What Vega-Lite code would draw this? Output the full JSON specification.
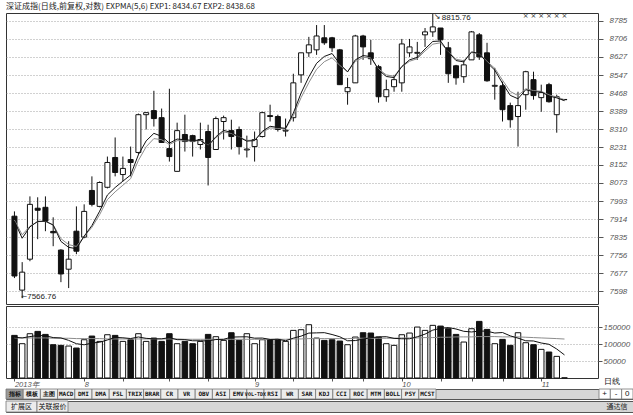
{
  "$schema": "https://vega.github.io/schema/vega-lite/v6.json",
  "background": "#ffffff",
  "padding": {"left": 5, "top": 2, "right": 0, "bottom": 0},
  "spacing": 0,
  "config": {
    "view": {"stroke": "#333333", "strokeWidth": 1},
    "font": "Liberation Sans",
    "title": {"font": "Noto Sans CJK SC"},
    "axis": {"labelOverlap": false}
  },
  "datasets": {
    "k": [
      {"idx":0,"open":7927,"high":7948,"low":7655,"close":7664,"amo":125500,"exp1":7905,"exp2":7910,"maamo1":120000,"maamo2":118000},
      {"idx":1,"open":7602,"high":7725,"low":7566.76,"close":7681,"amo":101000,"exp1":7830,"exp2":7845,"maamo1":118000,"maamo2":118000},
      {"idx":2,"open":7738,"high":8014,"low":7729,"close":7979,"amo":130400,"exp1":7880,"exp2":7883,"maamo1":122000,"maamo2":118000},
      {"idx":3,"open":7962,"high":8010,"low":7826,"close":7953,"amo":137200,"exp1":7904,"exp2":7903,"maamo1":125000,"maamo2":118000},
      {"idx":4,"open":7966,"high":8014,"low":7861,"close":7905,"amo":128400,"exp1":7905,"exp2":7904,"maamo1":124500,"maamo2":118000},
      {"idx":5,"open":7860,"high":7922,"low":7795,"close":7854,"amo":98000,"exp1":7888,"exp2":7889,"maamo1":119000,"maamo2":117000},
      {"idx":6,"open":7778,"high":7782,"low":7637,"close":7673,"amo":96100,"exp1":7816,"exp2":7828,"maamo1":118000,"maamo2":117000},
      {"idx":7,"open":7694,"high":7817,"low":7611,"close":7738,"amo":94100,"exp1":7790,"exp2":7802,"maamo1":110800,"maamo2":117000},
      {"idx":8,"open":7861,"high":7970,"low":7760,"close":7773,"amo":88200,"exp1":7784,"exp2":7794,"maamo1":101000,"maamo2":116000},
      {"idx":9,"open":7835,"high":7979,"low":7830,"close":7948,"amo":112700,"exp1":7839,"exp2":7838,"maamo1":97800,"maamo2":116000},
      {"idx":10,"open":8040,"high":8102,"low":7970,"close":7979,"amo":123500,"exp1":7886,"exp2":7878,"maamo1":102900,"maamo2":116000},
      {"idx":11,"open":7970,"high":8080,"low":7966,"close":8075,"amo":107800,"exp1":7949,"exp2":7934,"maamo1":105300,"maamo2":116000},
      {"idx":12,"open":8054,"high":8189,"low":8049,"close":8163,"amo":127400,"exp1":8020,"exp2":8000,"maamo1":111900,"maamo2":115000},
      {"idx":13,"open":8185,"high":8273,"low":8102,"close":8119,"amo":125500,"exp1":8053,"exp2":8034,"maamo1":119400,"maamo2":115000},
      {"idx":14,"open":8110,"high":8189,"low":8080,"close":8137,"amo":107800,"exp1":8081,"exp2":8063,"maamo1":118400,"maamo2":115000},
      {"idx":15,"open":8176,"high":8233,"low":8102,"close":8163,"amo":112700,"exp1":8108,"exp2":8092,"maamo1":116200,"maamo2":115000},
      {"idx":16,"open":8207,"high":8378,"low":8198,"close":8373,"amo":130400,"exp1":8197,"exp2":8172,"maamo1":120800,"maamo2":115000},
      {"idx":17,"open":8373,"high":8382,"low":8308,"close":8382,"amo":107800,"exp1":8258,"exp2":8232,"maamo1":116800,"maamo2":115000},
      {"idx":18,"open":8391,"high":8478,"low":8321,"close":8356,"amo":117600,"exp1":8291,"exp2":8268,"maamo1":115300,"maamo2":115000},
      {"idx":19,"open":8360,"high":8400,"low":8251,"close":8251,"amo":107800,"exp1":8278,"exp2":8263,"maamo1":115300,"maamo2":115000},
      {"idx":20,"open":8224,"high":8487,"low":8167,"close":8189,"amo":130400,"exp1":8248,"exp2":8242,"maamo1":118800,"maamo2":115000},
      {"idx":21,"open":8124,"high":8338,"low":8124,"close":8303,"amo":101000,"exp1":8266,"exp2":8259,"maamo1":112900,"maamo2":115000},
      {"idx":22,"open":8286,"high":8373,"low":8211,"close":8255,"amo":107800,"exp1":8263,"exp2":8258,"maamo1":112900,"maamo2":114000},
      {"idx":23,"open":8281,"high":8285,"low":8189,"close":8255,"amo":101000,"exp1":8260,"exp2":8257,"maamo1":109600,"maamo2":114000},
      {"idx":24,"open":8242,"high":8338,"low":8220,"close":8264,"amo":107800,"exp1":8261,"exp2":8259,"maamo1":109600,"maamo2":114000},
      {"idx":25,"open":8299,"high":8329,"low":8062,"close":8185,"amo":128400,"exp1":8236,"exp2":8238,"maamo1":109200,"maamo2":114000},
      {"idx":26,"open":8220,"high":8365,"low":8220,"close":8356,"amo":121600,"exp1":8276,"exp2":8272,"maamo1":113300,"maamo2":114000},
      {"idx":27,"open":8343,"high":8369,"low":8264,"close":8360,"amo":110800,"exp1":8304,"exp2":8297,"maamo1":113900,"maamo2":114000},
      {"idx":28,"open":8303,"high":8351,"low":8220,"close":8277,"amo":133300,"exp1":8295,"exp2":8291,"maamo1":120400,"maamo2":114000},
      {"idx":29,"open":8308,"high":8321,"low":8198,"close":8233,"amo":110800,"exp1":8274,"exp2":8275,"maamo1":121000,"maamo2":114000},
      {"idx":30,"open":8218,"high":8281,"low":8185,"close":8222,"amo":130400,"exp1":8257,"exp2":8260,"maamo1":121400,"maamo2":114000},
      {"idx":31,"open":8233,"high":8299,"low":8167,"close":8264,"amo":101000,"exp1":8259,"exp2":8261,"maamo1":117300,"maamo2":114000},
      {"idx":32,"open":8277,"high":8386,"low":8273,"close":8382,"amo":112700,"exp1":8300,"exp2":8296,"maamo1":117600,"maamo2":114000},
      {"idx":33,"open":8369,"high":8417,"low":8343,"close":8365,"amo":112700,"exp1":8322,"exp2":8315,"maamo1":113500,"maamo2":114000},
      {"idx":34,"open":8365,"high":8373,"low":8299,"close":8308,"amo":113700,"exp1":8317,"exp2":8313,"maamo1":114100,"maamo2":114000},
      {"idx":35,"open":8301,"high":8356,"low":8277,"close":8305,"amo":107800,"exp1":8313,"exp2":8311,"maamo1":109600,"maamo2":114000},
      {"idx":36,"open":8360,"high":8553,"low":8343,"close":8513,"amo":140200,"exp1":8380,"exp2":8369,"maamo1":117400,"maamo2":115000},
      {"idx":37,"open":8548,"high":8645,"low":8513,"close":8645,"amo":142200,"exp1":8468,"exp2":8448,"maamo1":123300,"maamo2":115000},
      {"idx":38,"open":8645,"high":8715,"low":8627,"close":8680,"amo":156900,"exp1":8539,"exp2":8514,"maamo1":132200,"maamo2":116000},
      {"idx":39,"open":8658,"high":8767,"low":8636,"close":8719,"amo":117600,"exp1":8599,"exp2":8573,"maamo1":132900,"maamo2":116000},
      {"idx":40,"open":8711,"high":8767,"low":8680,"close":8689,"amo":110800,"exp1":8629,"exp2":8606,"maamo1":133500,"maamo2":116000},
      {"idx":41,"open":8711,"high":8715,"low":8649,"close":8667,"amo":112700,"exp1":8642,"exp2":8623,"maamo1":128000,"maamo2":116000},
      {"idx":42,"open":8658,"high":8662,"low":8505,"close":8505,"amo":108800,"exp1":8596,"exp2":8590,"maamo1":121400,"maamo2":116000},
      {"idx":43,"open":8474,"high":8535,"low":8417,"close":8492,"amo":98000,"exp1":8561,"exp2":8562,"maamo1":109600,"maamo2":116000},
      {"idx":44,"open":8513,"high":8724,"low":8513,"close":8719,"amo":120600,"exp1":8614,"exp2":8607,"maamo1":110200,"maamo2":117000},
      {"idx":45,"open":8719,"high":8724,"low":8614,"close":8671,"amo":133300,"exp1":8633,"exp2":8625,"maamo1":114700,"maamo2":117000},
      {"idx":46,"open":8645,"high":8702,"low":8592,"close":8619,"amo":132400,"exp1":8628,"exp2":8623,"maamo1":118600,"maamo2":117000},
      {"idx":47,"open":8584,"high":8592,"low":8426,"close":8452,"amo":120600,"exp1":8570,"exp2":8574,"maamo1":121000,"maamo2":117000},
      {"idx":48,"open":8452,"high":8527,"low":8430,"close":8483,"amo":101000,"exp1":8541,"exp2":8548,"maamo1":121600,"maamo2":117000},
      {"idx":49,"open":8496,"high":8548,"low":8474,"close":8527,"amo":96100,"exp1":8536,"exp2":8542,"maamo1":116700,"maamo2":117000},
      {"idx":50,"open":8513,"high":8706,"low":8474,"close":8684,"amo":127400,"exp1":8585,"exp2":8583,"maamo1":115500,"maamo2":118000},
      {"idx":51,"open":8645,"high":8706,"low":8627,"close":8671,"amo":132400,"exp1":8614,"exp2":8608,"maamo1":115500,"maamo2":118000},
      {"idx":52,"open":8643,"high":8693,"low":8614,"close":8647,"amo":150000,"exp1":8625,"exp2":8619,"maamo1":121400,"maamo2":118000},
      {"idx":53,"open":8724,"high":8754,"low":8671,"close":8737,"amo":140200,"exp1":8662,"exp2":8653,"maamo1":129200,"maamo2":119000},
      {"idx":54,"open":8737,"high":8815.76,"low":8715,"close":8759,"amo":155000,"exp1":8695,"exp2":8683,"maamo1":141000,"maamo2":119000},
      {"idx":55,"open":8754,"high":8754,"low":8636,"close":8702,"amo":152900,"exp1":8697,"exp2":8689,"maamo1":146100,"maamo2":120000},
      {"idx":56,"open":8667,"high":8693,"low":8513,"close":8553,"amo":145100,"exp1":8649,"exp2":8650,"maamo1":148600,"maamo2":120000},
      {"idx":57,"open":8588,"high":8592,"low":8505,"close":8535,"amo":128400,"exp1":8611,"exp2":8617,"maamo1":144300,"maamo2":121000},
      {"idx":58,"open":8540,"high":8614,"low":8513,"close":8592,"amo":105900,"exp1":8605,"exp2":8610,"maamo1":137500,"maamo2":121000},
      {"idx":59,"open":8614,"high":8741,"low":8614,"close":8737,"amo":145100,"exp1":8649,"exp2":8646,"maamo1":135500,"maamo2":121000},
      {"idx":60,"open":8724,"high":8732,"low":8614,"close":8627,"amo":166700,"exp1":8642,"exp2":8641,"maamo1":138200,"maamo2":122000},
      {"idx":61,"open":8645,"high":8689,"low":8518,"close":8522,"amo":143100,"exp1":8602,"exp2":8607,"maamo1":137800,"maamo2":122000},
      {"idx":62,"open":8498,"high":8579,"low":8439,"close":8502,"amo":101000,"exp1":8569,"exp2":8577,"maamo1":132400,"maamo2":122000},
      {"idx":63,"open":8500,"high":8518,"low":8343,"close":8395,"amo":113700,"exp1":8511,"exp2":8525,"maamo1":133900,"maamo2":121000},
      {"idx":64,"open":8413,"high":8426,"low":8316,"close":8351,"amo":96100,"exp1":8458,"exp2":8475,"maamo1":124100,"maamo2":121000},
      {"idx":65,"open":8365,"high":8474,"low":8233,"close":8413,"amo":133300,"exp1":8443,"exp2":8457,"maamo1":117400,"maamo2":121000},
      {"idx":66,"open":8461,"high":8566,"low":8395,"close":8562,"amo":103900,"exp1":8483,"exp2":8487,"maamo1":109600,"maamo2":120000},
      {"idx":67,"open":8527,"high":8562,"low":8439,"close":8457,"amo":98000,"exp1":8474,"exp2":8479,"maamo1":109000,"maamo2":119000},
      {"idx":68,"open":8448,"high":8505,"low":8386,"close":8470,"amo":84300,"exp1":8473,"exp2":8476,"maamo1":103100,"maamo2":118000},
      {"idx":69,"open":8505,"high":8513,"low":8426,"close":8430,"amo":76500,"exp1":8455,"exp2":8460,"maamo1":99200,"maamo2":117000},
      {"idx":70,"open":8373,"high":8461,"low":8294,"close":8452,"amo":63700,"exp1":8447,"exp2":8451,"maamo1":85300,"maamo2":116000},
      {"idx":71,"open":8439,"high":8442,"low":8437,"close":8440,"amo":546,"exp1":8434.67,"exp2":8438.68,"maamo1":67973,"maamo2":114772}
    ]
  },
  "vconcat": [
    {
      "width": 592,
      "height": 291,
      "title": {"text": "深证成指(日线,前复权,对数) EXPMA(5,6) EXP1: 8434.67 EXP2: 8438.68", "anchor": "start", "fontSize": 8, "fontWeight": "normal", "color": "#222222", "offset": 1, "font": "Noto Sans CJK SC"},
      "data": {"name": "k"},
      "encoding": {
        "x": {"field": "idx", "type": "quantitative", "scale": {"domain": [-0.444, 74.68], "nice": false, "zero": false}, "axis": null}
      },
      "layer": [
        {
          "mark": {"type": "rule", "color": "#111111", "strokeWidth": 1},
          "encoding": {
            "y": {"field": "low", "type": "quantitative", "title": null,
              "scale": {"domain": [7541, 8820], "nice": false, "zero": false},
              "axis": {"orient": "right", "values": [7598,7677,7756,7835,7914,7993,8073,8152,8231,8310,8389,8468,8547,8627,8706,8785], "tickCount": 40, "format": "d", "labelOverlap": false, "grid": true, "gridDash": [1, 2], "gridColor": "#8a8a8a", "gridWidth": 0.8, "domain": false, "tickColor": "#555555", "tickSize": 5, "labelFontSize": 8, "labelFontStyle": "italic", "labelColor": "#555555", "labelPadding": 6, "title": null}},
            "y2": {"field": "high"}
          }
        },
        {
          "mark": {"type": "bar", "size": 5, "stroke": "#111111", "strokeWidth": 1},
          "encoding": {
            "y": {"field": "open", "type": "quantitative", "title": null},
            "y2": {"field": "close"},
            "fill": {"condition": {"test": "datum.close >= datum.open", "value": "#ffffff"}, "value": "#111111"}
          }
        },
        {
          "mark": {"type": "line", "color": "#8c8c8c", "strokeWidth": 1},
          "encoding": {"y": {"field": "exp2", "type": "quantitative", "title": null}}
        },
        {
          "mark": {"type": "line", "color": "#111111", "strokeWidth": 1},
          "encoding": {"y": {"field": "exp1", "type": "quantitative", "title": null}}
        },
        {
          "transform": [{"filter": "datum.idx == 54"}],
          "mark": {"type": "text", "align": "left", "baseline": "middle", "fontSize": 8, "dx": 9, "dy": 4, "color": "#222222"},
          "encoding": {"y": {"field": "high", "type": "quantitative", "title": null}, "text": {"field": "high", "type": "quantitative", "format": ".2f"}}
        },
        {
          "transform": [{"filter": "datum.idx == 54"}],
          "mark": {"type": "text", "align": "left", "baseline": "middle", "fontSize": 8, "dx": 1, "dy": 3, "color": "#222222", "font": "DejaVu Sans"},
          "encoding": {"y": {"field": "high", "type": "quantitative", "title": null}, "text": {"value": "↘"}}
        },
        {
          "transform": [{"filter": "datum.idx == 1"}],
          "mark": {"type": "text", "align": "left", "baseline": "middle", "fontSize": 8, "dx": 5, "dy": -1, "color": "#222222"},
          "encoding": {"y": {"field": "low", "type": "quantitative", "title": null}, "text": {"field": "low", "type": "quantitative", "format": ".2f"}}
        },
        {
          "transform": [{"filter": "datum.idx == 1"}],
          "mark": {"type": "text", "align": "left", "baseline": "middle", "fontSize": 7, "dx": -1, "dy": -1, "color": "#222222", "font": "DejaVu Sans"},
          "encoding": {"y": {"field": "low", "type": "quantitative", "title": null}, "text": {"value": "←"}}
        },
        {
          "transform": [{"filter": "datum.idx >= 66"}],
          "mark": {"type": "text", "align": "center", "baseline": "middle", "fontSize": 7, "color": "#333333", "font": "DejaVu Sans"},
          "encoding": {"y": {"datum": 8807}, "text": {"value": "×"}}
        }
      ]
    },
    {
      "width": 592,
      "height": 72,
      "data": {"name": "k"},
      "encoding": {
        "x": {"field": "idx", "type": "quantitative", "scale": {"domain": [-0.444, 74.68], "nice": false, "zero": false},
          "axis": {"values": [0, 9, 14, 20, 25, 31, 36, 41, 45, 50, 55, 59, 63, 68], "tickCount": 40,
            "labelExpr": "datum.value == 0 ? '2013年' : datum.value == 9 ? '8' : datum.value == 31 ? '9' : datum.value == 50 ? '10' : datum.value == 68 ? '11' : ''",
            "labelAlign": "left", "labelDx": 1, "labelFontSize": 7.5, "labelFontStyle": "italic", "labelColor": "#555555", "labelPadding": -1, "labelOverlap": false, "labelFlush": false, "labelBound": false,
            "tickSize": 3, "tickColor": "#555555", "domain": false, "grid": false,
            "title": "日线", "titleX": 605, "titleY": -1, "titleAngle": 0, "titleAlign": "center", "titleBaseline": "top", "titleFontSize": 8, "titleFontWeight": "normal", "titleColor": "#111111"}}
      },
      "layer": [
        {
          "mark": {"type": "bar", "size": 5.5, "stroke": "#111111", "strokeWidth": 1},
          "encoding": {
            "y": {"field": "amo", "type": "quantitative", "title": null,
              "scale": {"domain": [0, 212000], "nice": false},
              "axis": {"orient": "right", "values": [50000, 100000, 150000], "tickCount": 10, "format": "d", "labelOverlap": false, "grid": true, "gridDash": [1, 2], "gridColor": "#8a8a8a", "gridWidth": 0.8, "domain": false, "tickColor": "#555555", "tickSize": 4, "labelFontSize": 8, "labelFontStyle": "italic", "labelColor": "#555555", "labelPadding": 1,
                "title": "X100万", "titleAngle": 0, "titleX": 18, "titleY": 64, "titleAlign": "center", "titleBaseline": "middle", "titleFontSize": 7, "titleFontWeight": "normal", "titleFontStyle": "italic", "titleColor": "#444444"}},
            "fill": {"condition": {"test": "datum.close >= datum.open", "value": "#ffffff"}, "value": "#111111"}
          }
        },
        {
          "mark": {"type": "line", "color": "#8c8c8c", "strokeWidth": 1},
          "encoding": {"y": {"field": "maamo2", "type": "quantitative", "title": null}}
        },
        {
          "mark": {"type": "line", "color": "#111111", "strokeWidth": 1},
          "encoding": {"y": {"field": "maamo1", "type": "quantitative", "title": null}}
        },
        {
          "data": {"values": [{}]},
          "mark": {"type": "text", "align": "left", "baseline": "middle", "fontSize": 8, "fontStyle": "italic", "color": "#222222"},
          "encoding": {
            "x": {"datum": -0.3},
            "y": {"datum": 193000},
            "text": {"value": "AMO(5,40,40) AMO: 545869006.00 MAAMO1: 67972890624.00 MAAMO2: 114771623936.00 MAAMO3: 114771623936.00"}
          }
        }
      ]
    },
    {
      "width": 627,
      "height": 10,
      "view": {"fill": "#d6d6d6", "stroke": "#555555"},
      "resolve": {"scale": {"x": "independent"}},
      "layer": [
        {
          "data": {"values": [{"label":"指标"},{"label":"模板"},{"label":"主图"},{"label":"MACD"},{"label":"DMI"},{"label":"DMA"},{"label":"FSL"},{"label":"TRIX"},{"label":"BRAR"},{"label":"CR"},{"label":"VR"},{"label":"OBV"},{"label":"ASI"},{"label":"EMV"},{"label":"VOL-TDX"},{"label":"RSI"},{"label":"WR"},{"label":"SAR"},{"label":"KDJ"},{"label":"CCI"},{"label":"ROC"},{"label":"MTM"},{"label":"BOLL"},{"label":"PSY"},{"label":"MCST"}]},
          "encoding": {
            "x": {"field": "label", "type": "nominal", "sort": null, "scale": {"type": "band", "range": [0, 430], "paddingInner": 0, "paddingOuter": 0}, "axis": null}
          },
          "layer": [
            {"mark": {"type": "rect", "stroke": "#777777", "strokeWidth": 0.8},
             "encoding": {"fill": {"condition": {"test": "datum.label == '指标'", "value": "#9a9a9a"}, "value": "#ececec"}}},
            {
              "mark": {"type": "text", "font": "DejaVu Sans Mono", "fontWeight": "bold", "color": "#111111", "baseline": "middle", "align": "center"},
              "encoding": {
                "text": {"field": "label"},
                "size": {"condition": {"test": "datum.label == 'VOL-TDX'", "value": 5}, "value": 6}
              }
            }
          ]
        },
        {
          "data": {"values": [{"label":"+"},{"label":"-"},{"label":"0"}]},
          "encoding": {
            "x": {"field": "label", "type": "nominal", "sort": null, "scale": {"type": "band", "range": [593, 627], "paddingInner": 0, "paddingOuter": 0}, "axis": null}
          },
          "layer": [
            {"mark": {"type": "rect", "fill": "#ffffff", "stroke": "#777777", "strokeWidth": 0.8}},
            {"mark": {"type": "text", "fontSize": 8, "color": "#111111", "baseline": "middle", "align": "center"}, "encoding": {"text": {"field": "label"}}}
          ]
        }
      ]
    },
    {
      "width": 627,
      "height": 11,
      "view": {"fill": "#d6d6d6", "stroke": "#555555"},
      "resolve": {"scale": {"x": "independent"}},
      "layer": [
        {
          "data": {"values": [{"label":"扩展区"},{"label":"关联报价"}]},
          "encoding": {
            "x": {"field": "label", "type": "nominal", "sort": null, "scale": {"type": "band", "range": [0, 62], "paddingInner": 0, "paddingOuter": 0}, "axis": null}
          },
          "layer": [
            {"mark": {"type": "rect", "fill": "#ececec", "stroke": "#777777", "strokeWidth": 0.8}},
            {
              "mark": {"type": "text", "font": "Noto Sans CJK SC", "fontSize": 7, "color": "#111111", "baseline": "middle", "align": "center"},
              "encoding": {"text": {"field": "label"}}
            }
          ]
        },
        {
          "data": {"values": [{"label":"通达信"}]},
          "mark": {"type": "text", "font": "Noto Sans CJK SC", "fontSize": 7, "color": "#222222", "baseline": "middle", "align": "center"},
          "encoding": {
            "x": {"field": "label", "type": "nominal", "scale": {"type": "band", "range": [595, 627], "paddingInner": 0, "paddingOuter": 0}, "axis": null},
            "text": {"field": "label"}
          }
        }
      ]
    }
  ]
}
